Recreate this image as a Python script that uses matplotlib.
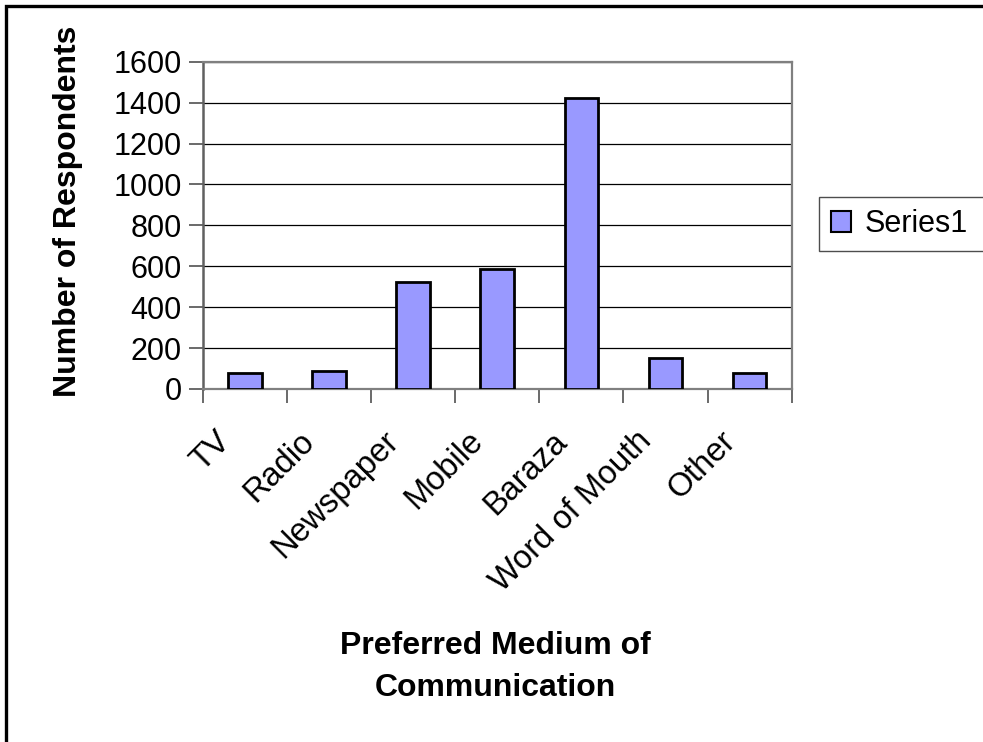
import matplotlib
matplotlib.use("Agg")
import matplotlib.pyplot as plt
from matplotlib.patches import Rectangle
from matplotlib.transforms import ScaledTranslation

categories = ["TV", "Radio", "Newspaper", "Mobile", "Baraza", "Word of Mouth", "Other"]
respondents = [76, 90, 521, 585, 1424, 152, 78]
y_ticks = [0, 200, 400, 600, 800, 1000, 1200, 1400, 1600]
series_name = "Series1"

plt.rcParams["font.family"] = ["Liberation Sans", "DejaVu Sans"]

W, H = 983, 742
fig = plt.figure(figsize=(W / 100, H / 100), dpi=100)
fig.patch.set_facecolor("white")

# plot area placed in pixel terms
left, right, top, bottom = 202.7, 791.7, 61.7, 389.0
ax = fig.add_axes([left / W, 1 - bottom / H, (right - left) / W, (bottom - top) / H])

x = list(range(len(categories)))
ax.bar(x, respondents, width=0.4, color="#9999FF", edgecolor="black",
       linewidth=2.0, zorder=3, label=series_name)

ax.set_xlim(-0.5, len(categories) - 0.5)
ax.set_ylim(0, 1600)
ax.set_yticks(y_ticks)
ax.set_yticklabels([str(v) for v in y_ticks], fontsize=22)
ax.yaxis.grid(True, color="black", linewidth=0.9, zorder=1)
ax.set_axisbelow(True)

# ticks sit on category boundaries; labels sit under category centres
ax.set_xticks([i - 0.5 for i in range(len(categories) + 1)])
ax.set_xticklabels([])
ax.set_xticks(x, minor=True)
ax.set_xticklabels(categories, minor=True, fontsize=23.5, rotation=45,
                   ha="right", va="top", rotation_mode="anchor")
ax.tick_params(axis="x", which="minor", length=0, pad=14)
ax.tick_params(axis="x", which="major", length=10, width=1.2, color="#505050",
               direction="out")
ax.tick_params(axis="y", length=10, width=1.2, color="#505050", direction="out",
               pad=5)

shift = ScaledTranslation(-30 / 100, -17 / 100, fig.dpi_scale_trans)
for lbl in ax.get_xticklabels(minor=True):
    lbl.set_transform(lbl.get_transform() + shift)

for side in ["top", "right", "bottom"]:
    ax.spines[side].set_color("#808080")
    ax.spines[side].set_linewidth(1.6)
ax.spines["left"].set_color("#606060")
ax.spines["left"].set_linewidth(1.8)

fig.text(68 / W, 1 - 211 / H, "Number of Respondents", rotation=90,
         ha="center", va="center", fontsize=23, fontweight="bold")
fig.text(495 / W, 1 - 667 / H, "Preferred Medium of\nCommunication",
         ha="center", va="center", fontsize=23, fontweight="bold",
         linespacing=1.5)

# legend box running off the right edge
leg = fig.legend(loc="upper left",
                 bbox_to_anchor=(819 / W, 1 - 251 / H, 220 / W, 54 / H),
                 mode="expand", fontsize=22, frameon=True, fancybox=False,
                 handlelength=0.65, handleheight=0.65, handletextpad=0.45,
                 borderpad=0.4, borderaxespad=0)
leg.get_frame().set_edgecolor("#202020")
leg.get_frame().set_linewidth(1.0)
for h in leg.legend_handles:
    h.set_linewidth(1.5)

# outer chart border
fig.add_artist(Rectangle((6 / W, -0.2), 1.2, 1.2 - 6 / H,
                         transform=fig.transFigure, fill=False,
                         edgecolor="black", linewidth=2.4))

fig.savefig("out.png", dpi=100)
